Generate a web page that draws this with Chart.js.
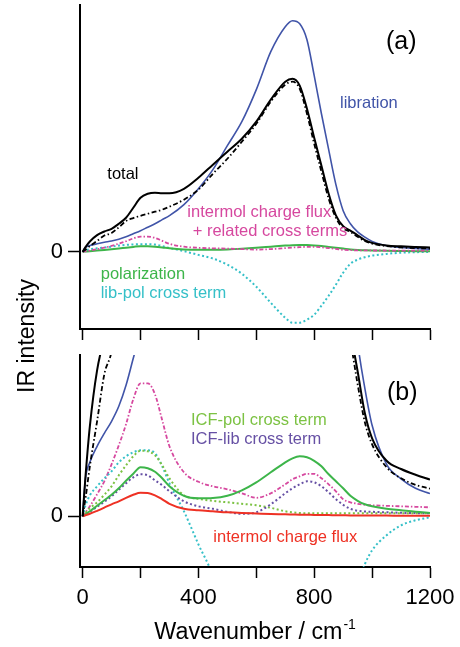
<!DOCTYPE html>
<html>
<head>
<meta charset="utf-8">
<script src="https://cdn.jsdelivr.net/npm/chart.js@4.4.1/dist/chart.umd.min.js"></script>
<style>
  html, body { margin: 0; padding: 0; background: #fff; }
  #wrap { position: relative; width: 460px; height: 647px; overflow: hidden; }
  canvas { position: absolute; left: 0; }
  #chartA { top: 0; }
  #chartB { top: 340px; }
</style>
</head>
<body>
<div id="wrap">
  <canvas id="chartA" width="460" height="647"></canvas>
  <canvas id="chartB" width="460" height="307"></canvas>
</div>
<script>
// IR spectrum decomposition, panel (a) full scale, panel (b) zoomed near zero

// wavenumber grid (cm-1)
const WN = [0, 10, 25, 50, 75, 100, 125, 150, 175, 200, 225, 250, 275, 300, 350, 400, 450, 500, 550, 600,
  650, 700, 725, 750, 775, 800, 825, 850, 875, 900, 925, 950, 975, 1000, 1050, 1100, 1150, 1200];

// intensities, arbitrary units
const TOTAL = [0, 40, 90, 146, 178, 202, 246, 299, 387, 475, 510, 519, 515, 515, 554, 651, 766, 880, 994, 1144,
  1338, 1496, 1522, 1461, 1258, 1003, 757, 510, 320, 225, 185, 145, 103, 78, 55.5, 47.3, 41.5, 36.7];
const TOTAL_SUM = [0, 18, 50, 95, 142, 165, 215, 270, 296, 316, 334, 352, 370, 396, 458, 546, 686, 818, 968, 1126,
  1320, 1470, 1496, 1434, 1214, 950, 704, 466, 299, 205, 175, 132, 94, 72, 49, 38, 31.5, 27.7];
const LIBRATION = [0, 38, 54, 70, 83, 95, 110, 131, 158, 185, 216, 246, 282, 317, 414, 554, 722, 933, 1144, 1426,
  1760, 1980, 2033, 2006, 1866, 1549, 1214, 898, 590, 361, 246, 174, 128, 91, 52, 37.5, 28, 22.7];
const POLARIZATION = [0, 2, 5, 10.5, 16, 21.5, 28, 35.5, 42.5, 49, 48, 44.5, 38, 30, 20.5, 18, 18.3, 20.5, 26, 34,
  44, 54, 58, 60, 59, 55.5, 50, 42, 35, 28, 20.5, 15.5, 12, 10, 7.5, 6, 4.5, 3.3];
const LIB_POL = [0, 11, 21, 30, 38, 45, 54, 60, 64, 66, 66, 63, 50, 33, 5, -28, -60, -114, -194, -308,
  -449, -581, -625, -625, -598, -554, -475, -387, -290, -185, -106, -70, -48, -34, -19, -9, -4, -1];
const ICF_RELATED = [0, 4, 10, 22, 35, 52, 71, 92, 117, 133, 133, 122, 96, 70, 44, 34.5, 30, 27, 23, 18.5,
  23, 32, 37, 40, 42.5, 42.5, 38, 32, 25, 17, 14, 12.5, 11.5, 11, 10.5, 10, 9.5, 9];
const ICF = [0, 1, 2.5, 5.5, 8.7, 12, 15, 18.5, 21.5, 23.5, 23.3, 21, 17, 12.5, 7.5, 6, 5, 4, 3.3, 2.8,
  2.3, 2, 1.8, 1.6, 1.5, 1.4, 1.3, 1.2, 1.1, 1, 0.9, 0.9, 0.8, 0.8, 0.7, 0.6, 0.5, 0.5];
const ICF_POL = [0, 3.5, 8, 14, 21.5, 30, 41, 51, 60, 65.5, 65, 61, 51, 38, 21, 17.5, 15.5, 14, 12.5, 11,
  8.5, 5, 4, 3.3, 3, 3, 3, 3, 3, 3, 3, 3, 3, 3, 3, 3, 3, 3];
const ICF_LIB = [0, 2, 4.5, 9.5, 14.5, 20, 26.5, 33, 39, 42, 41, 36, 31, 25, 15, 10, 7.5, 4.5, 2.5, 4,
  12, 23, 28, 32, 35, 34, 30, 24, 17, 11.5, 7.5, 5.5, 4.8, 4.5, 4, 3.5, 3.2, 3];

const X_TICKS = [0, 200, 400, 600, 800, 1000, 1200];
const X_LABELS = [0, 400, 800, 1200];

const FONT = '"Liberation Sans", Arial, Helvetica, sans-serif';
const BLUE = '#4054a8', MAGENTA = '#d6489f', GREEN = '#3db54a', CYAN = '#35c0c8';
const RED = '#ee3124', LGREEN = '#7cc243', PURPLE = '#6650a4';

function series(values, color, width, dash) {
  return {
    data: WN.map((w, i) => ({ x: w, y: values[i] })),
    borderColor: color,
    borderWidth: width,
    borderDash: dash || [],
    pointRadius: 0,
    fill: false,
    cubicInterpolationMode: 'monotone'
  };
}

function xScale(showLabels, height) {
  return {
    type: 'linear', min: -9, max: 1200,
    afterBuildTicks: s => { s.ticks = X_TICKS.map(v => ({ value: v })); },
    afterFit: s => { s.height = height; s.paddingLeft = 0; s.paddingRight = 0; },
    grid: { drawOnChartArea: false, drawTicks: true, tickLength: 11, tickWidth: 1.5, tickColor: '#000' },
    border: { display: true, color: '#000', width: 2 },
    ticks: {
      display: showLabels, autoSkip: false, maxRotation: 0, padding: 7, color: '#000',
      font: { family: FONT, size: 22 },
      callback: v => (X_LABELS.includes(v) ? String(v) : '')
    }
  };
}

function yScale(min, max) {
  return {
    type: 'linear', min, max,
    afterBuildTicks: s => { s.ticks = [{ value: 0 }]; },
    // fixed width, and no extra room for the label at the ends
    afterFit: s => { s.width = 80; s.paddingTop = 0; s.paddingBottom = 0; },
    grid: { drawOnChartArea: false, drawTicks: true, tickLength: 12, tickWidth: 1.5, tickColor: '#000' },
    border: { display: true, color: '#000', width: 2 },
    ticks: { padding: 5, color: '#000', font: { family: FONT, size: 22 } }
  };
}

// draws the labels written inside the plot
function textLayer(items) {
  return {
    id: 'textLayer',
    afterDraw(chart) {
      const ctx = chart.ctx;
      for (const t of items) {
        ctx.save();
        ctx.font = (t.size || 16.5) + 'px ' + FONT;
        ctx.fillStyle = t.color || '#000';
        ctx.textBaseline = 'alphabetic';
        ctx.textAlign = t.align || 'left';
        ctx.translate(t.x, t.y);
        if (t.rotate) ctx.rotate(t.rotate);
        ctx.fillText(t.text, 0, 0);
        if (t.sup) {
          const w = ctx.measureText(t.text).width;
          ctx.font = t.supSize + 'px ' + FONT;
          ctx.fillText(t.sup, w + 1, -10);
        }
        ctx.restore();
      }
    }
  };
}

const common = {
  responsive: false,
  animation: false,
  events: [],
  plugins: { legend: { display: false }, tooltip: { enabled: false } }
};

new Chart(document.getElementById('chartA'), {
  type: 'line',
  data: {
    datasets: [
      series(TOTAL, '#000', 2),
      series(TOTAL_SUM, '#000', 1.8, [5, 2.5, 1.5, 2.5]),
      series(LIBRATION, BLUE, 1.6),
      series(ICF_RELATED, MAGENTA, 1.8, [4, 2, 1.5, 2]),
      series(POLARIZATION, GREEN, 2),
      series(LIB_POL, CYAN, 2, [2, 2.5])
    ]
  },
  options: {
    ...common,
    layout: { padding: { top: 5, right: 30, left: 0, bottom: 0 } },
    scales: { x: xScale(false, 318), y: yScale(-680, 2171) }
  },
  plugins: [textLayer([
    { text: '(a)', x: 386, y: 48.5, size: 25 },
    { text: 'libration', x: 340, y: 108.3, color: BLUE },
    { text: 'total', x: 107.3, y: 179.3 },
    { text: 'intermol charge flux', x: 187.3, y: 217.3, color: MAGENTA },
    { text: '+ related cross terms', x: 192.7, y: 236, color: MAGENTA },
    { text: 'polarization', x: 100.7, y: 279.3, color: GREEN },
    { text: 'lib-pol cross term', x: 100.7, y: 297.7, color: CYAN },
    { text: 'IR intensity', x: 33.5, y: 336, size: 23, align: 'center', rotate: -Math.PI / 2 }
  ])]
});

new Chart(document.getElementById('chartB'), {
  type: 'line',
  data: {
    datasets: [
      series(TOTAL, '#000', 2),
      series(TOTAL_SUM, '#000', 1.8, [5, 2.5, 1.5, 2.5]),
      series(LIBRATION, BLUE, 1.6),
      series(ICF, RED, 2),
      series(POLARIZATION, GREEN, 2),
      series(ICF_LIB, PURPLE, 2, [2, 2.5]),
      series(ICF_POL, LGREEN, 2, [2, 2.5]),
      series(LIB_POL, CYAN, 2, [2, 2.5]),
      series(ICF_RELATED, MAGENTA, 1.8, [4, 2, 1.5, 2])
    ]
  },
  options: {
    ...common,
    layout: { padding: { top: 15, right: 30, left: 0, bottom: 0 } },
    scales: { x: xScale(true, 80), y: yScale(-50.7, 161.3) }
  },
  plugins: [textLayer([
    { text: '(b)', x: 387, y: 60, size: 25 },
    { text: 'ICF-pol cross term', x: 191, y: 85, color: LGREEN },
    { text: 'ICF-lib cross term', x: 191, y: 104, color: PURPLE },
    { text: 'intermol charge flux', x: 213.3, y: 202.3, color: RED },
    { text: 'Wavenumber / cm', x: 154.3, y: 299, size: 23.3, sup: '-1', supSize: 14 }
  ])]
});
</script>
</body>
</html>
